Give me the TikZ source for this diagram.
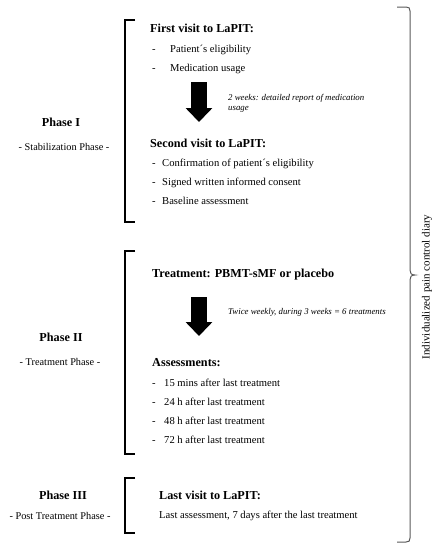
\documentclass[tikz,border=0pt]{standalone}
\usepackage{fontspec}
\setmainfont{Liberation Serif}
\usetikzlibrary{arrows.meta}
\begin{document}
\begin{tikzpicture}[x=1pt,y=-1pt,
  head/.style={anchor=base west,inner sep=0pt,font=\fontsize{12.2}{14}\selectfont\bfseries},
  item/.style={anchor=base west,inner sep=0pt,font=\fontsize{10.6}{13}\selectfont},
  note/.style={anchor=base west,inner sep=0pt,font=\fontsize{8.8}{11}\selectfont\itshape,align=left},
  phase/.style={anchor=base,inner sep=0pt,font=\fontsize{12.2}{14}\selectfont\bfseries},
  sub/.style={anchor=base,inner sep=0pt,font=\fontsize{10.3}{13}\selectfont},
  bracket/.style={line width=2.2pt,line cap=butt},
  bigarrow/.style={line width=16pt,-{Triangle[width=26pt,length=14pt]}},
  brace/.style={line width=1pt,draw=black!65}]
\useasboundingbox (0,0) rectangle (443,550);

% Phase labels
\node[phase] (p1) at (61,126) {Phase I};
\node[sub] (p1s) at (64,150) {- Stabilization Phase -};
\node[phase] (p2) at (61,341) {Phase II};
\node[sub] (p2s) at (60,365) {- Treatment Phase -};
\node[phase] (p3) at (63,499) {Phase III};
\node[sub] (p3s) at (60,519) {- Post Treatment Phase -};

% Left brackets
\draw[bracket] (135,20) -- (125,20) -- (125,222) -- (135,222);
\draw[bracket] (135,251) -- (125,251) -- (125,454) -- (135,454);
\draw[bracket] (135,478) -- (125,478) -- (125,533) -- (135,533);

% Phase I content
\node[head] (v1) at (150,32) {First visit to LaPIT:};
\node[item] (d1) at (152,52) {-};
\node[item] (i1) at (170,52) {Patient´s eligibility};
\node[item] (d2) at (152,71) {-};
\node[item] (i2) at (170,71) {Medication usage};
\coordinate (a1s) at (199,82);
\coordinate (a1e) at (199,122);
\draw[bigarrow] (a1s) -- (a1e);
\node[note] (n1) at (228,100) {2 weeks: detailed report of medication};
\node[note] (n1b) at (228,110) {usage};
\node[head] (v2) at (150,147) {Second visit to LaPIT:};
\node[item] (d3) at (152,166) {-};
\node[item] (i3) at (162,166) {Confirmation of patient´s eligibility};
\node[item] (d4) at (152,185) {-};
\node[item] (i4) at (162,185) {Signed written informed consent};
\node[item] (d5) at (152,204) {-};
\node[item] (i5) at (162,204) {Baseline assessment};

% Phase II content
\node[head] (t1) at (152,277) {Treatment: PBMT-sMF or placebo};
\coordinate (a2s) at (199,297);
\coordinate (a2e) at (199,336);
\draw[bigarrow] (a2s) -- (a2e);
\node[note] (n2) at (228,314) {Twice weekly, during 3 weeks = 6 treatments};
\node[head] (as) at (152,366) {Assessments:};
\node[item] (d6) at (152,386) {-};
\node[item] (i6) at (164,386) {15 mins after last treatment};
\node[item] (d7) at (152,405) {-};
\node[item] (i7) at (164,405) {24 h after last treatment};
\node[item] (d8) at (152,424) {-};
\node[item] (i8) at (164,424) {48 h after last treatment};
\node[item] (d9) at (152,443) {-};
\node[item] (i9) at (164,443) {72 h after last treatment};

% Phase III content
\node[head] (v3) at (159,499) {Last visit to LaPIT:};
\node[item] (i10) at (159,518) {Last assessment, 7 days after the last treatment};

% Right brace
\draw[brace] (397,7) -- (406,7) .. controls (409,7) and (410,8) .. (410,11)
  -- (410,270) .. controls (410,273) and (411,275) .. (415,275)
  .. controls (411,275) and (410,277) .. (410,280)
  -- (410,538) .. controls (410,541) and (409,542) .. (406,542) -- (397,542);
\node[rotate=90,inner sep=0pt,font=\fontsize{11}{13}\selectfont] (diary) at (427,287) {Individualized pain control diary};
\end{tikzpicture}
\end{document}
